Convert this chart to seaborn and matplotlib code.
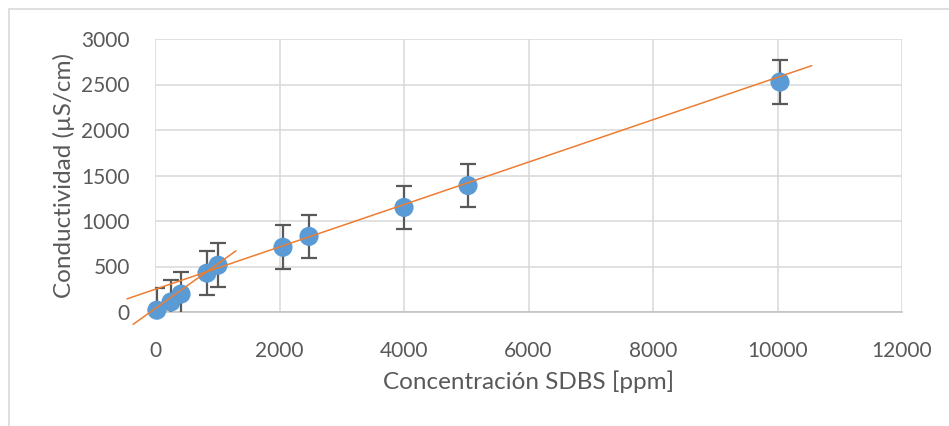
import matplotlib
matplotlib.use("Agg")
import matplotlib.pyplot as plt
import seaborn as sns
import numpy as np
import pandas as pd
from matplotlib.patches import Rectangle

# ---- data ----
concentracion = [30, 257, 418, 835, 1012, 2056, 2474, 4000, 5028, 10040]
conductividad = [20, 110, 197, 427, 514, 711, 831, 1149, 1389, 2527]
error = [240, 240, 240, 240, 240, 240, 240, 240, 240, 240]
x_ticks = [0, 2000, 4000, 6000, 8000, 10000, 12000]
y_ticks = [0, 500, 1000, 1500, 2000, 2500, 3000]
# trend lines (slope, intercept) and their x extents as drawn
trend_full = (0.233, 249)
trend_full_x = [-450, 10550]
trend_low = (0.489, 36)
trend_low_x = [-350, 1300]

df = pd.DataFrame({"x": concentracion, "y": conductividad, "err": error})

sns.set_theme(style="white")
plt.rcParams["font.family"] = ["Lato", "DejaVu Sans"]

W, H = 949, 426
fig = plt.figure(figsize=(W / 100, H / 100), dpi=100)
AX_H = 312 - 39
AX_W = 902 - 155
ax = fig.add_axes([155 / W, 1 - 312 / H, AX_W / W, AX_H / H])

text_col = "#595959"
grid_col = "#d9d9d9"

# trend lines (drawn beyond the plot area, as in the reference)
n_before = len(ax.lines)
for (m, b), xs in [(trend_full, trend_full_x), (trend_low, trend_low_x)]:
    xs = np.array(xs, dtype=float)
    tl = pd.DataFrame({"x": xs, "y": m * xs + b})
    sns.lineplot(data=tl, x="x", y="y", ax=ax, color="#ED7D31", lw=1.1,
                 zorder=5, legend=False)
for ln in ax.lines[n_before:]:
    ln.set_clip_on(False)

# error bars (clipped at the plot area)
ax.errorbar(df["x"], df["y"], yerr=df["err"], fmt="none", ecolor="#595959",
            elinewidth=1.6, capsize=5.5, capthick=1.6, zorder=3)

sns.scatterplot(data=df, x="x", y="y", ax=ax, color="#5B9BD5", s=190,
                edgecolor="none", zorder=4, clip_on=False, legend=False)

ax.set_xlim(0, 12000)
ax.set_ylim(0, 3000)
ax.set_xticks(x_ticks)
ax.set_yticks(y_ticks)
ax.set_xticklabels([str(t) for t in x_ticks])
ax.set_yticklabels([str(t) for t in y_ticks])
ax.grid(True, color=grid_col, lw=1.1)
ax.set_axisbelow(True)
for s in ["top", "right", "left"]:
    ax.spines[s].set_visible(False)
ax.spines["bottom"].set_color("#bfbfbf")
ax.spines["bottom"].set_linewidth(1.1)
ax.tick_params(axis="both", length=0, labelsize=15, labelcolor=text_col)
ax.tick_params(axis="x", pad=21)
ax.tick_params(axis="y", pad=18)
ax.set_xlabel("Concentración SDBS [ppm]", fontsize=17.5, color=text_col, va="center")
ax.set_ylabel("Conductividad (µS/cm)", fontsize=17.5, color=text_col, va="center")
ax.xaxis.set_label_coords(0.5, (312 - 382) / AX_H)
ax.yaxis.set_label_coords((64 - 155) / AX_W, 0.5)

# chart area border
fig.patches.append(Rectangle((9 / W, -0.1), 1.2, 1 - 9 / H + 0.1,
                             transform=fig.transFigure, fill=False,
                             edgecolor="#d9d9d9", lw=1.2))

fig.savefig("out.png", dpi=100)
